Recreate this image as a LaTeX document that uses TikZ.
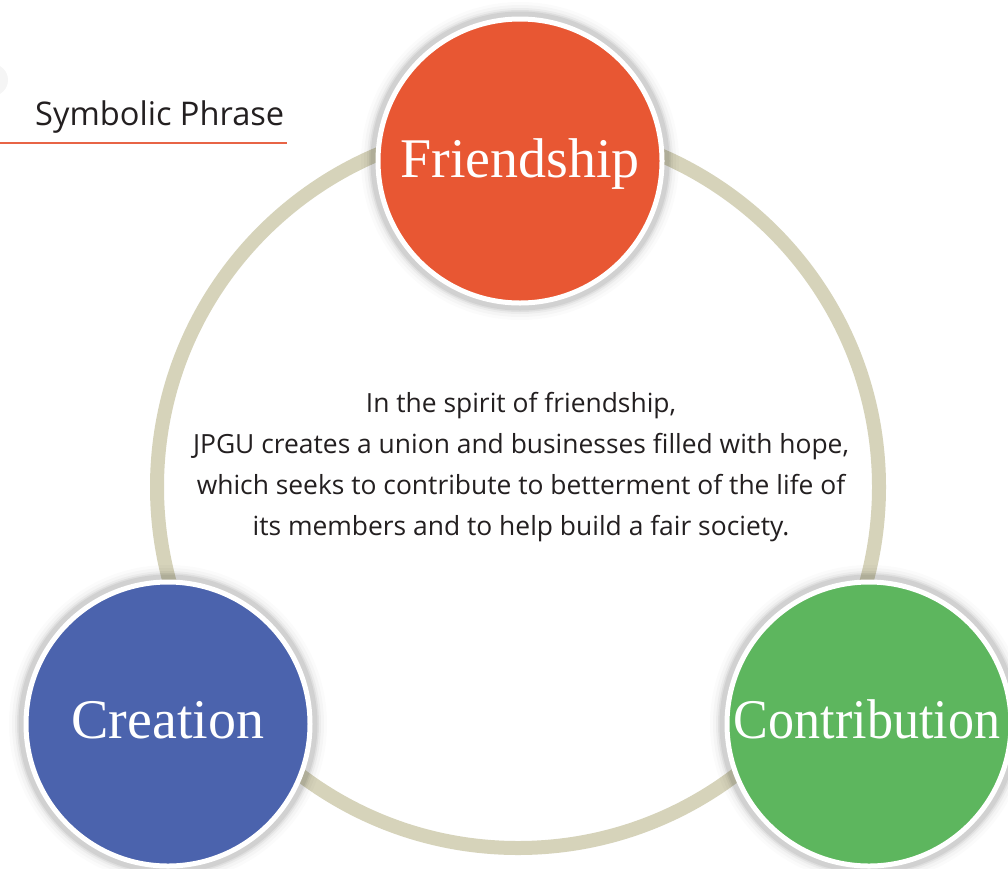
\documentclass[tikz,border=0pt]{standalone}
\usepackage{fontspec}
\setmainfont{Liberation Serif}
\newfontfamily\bodyfont{Open Sans}
\usetikzlibrary{calc}
\definecolor{ringcol}{RGB}{214,211,186}
\definecolor{friendcol}{RGB}{232,87,51}
\definecolor{creatcol}{RGB}{75,99,173}
\definecolor{contribcol}{RGB}{93,182,94}
\definecolor{txtcol}{RGB}{35,31,32}
\definecolor{linecol}{RGB}{232,100,70}
\tikzset{
  bigdisk/.style={circle, minimum size=284pt, inner sep=0pt, text=white,
    font=\fontsize{56}{56}\selectfont, draw=white, line width=5pt},
  disklabel/.style={text=white, font=\fontsize{56}{56}\selectfont, anchor=base},
}
\newcommand{\softshadow}[2]{%
  \foreach \r/\o in {159/0.015,156/0.025,153/0.035,151/0.05,149.5/0.06}{
    \fill[black, opacity=\o] (#1,#2) circle (\r pt);
  }%
}
\begin{document}
\begin{tikzpicture}[x=1pt,y=-1pt]
\useasboundingbox (0,0) rectangle (1008,868);
\fill[white] (0,0) rectangle (1008,868);
% faint blob top-left
\fill[black, opacity=0.04] (-8,80) circle (16pt);
% big ring
\coordinate (rc) at (518,487);
\draw[ringcol, line width=14pt] (rc) circle (361pt);
% shadows
\begin{scope}
\clip (0,0) rectangle (1008,868);
\softshadow{520}{161}
\softshadow{168}{724}
\softshadow{869}{724}
\end{scope}
% circles
\node[bigdisk, fill=friendcol] (friend) at (520,161) {};
\node[bigdisk, fill=creatcol] (creat) at (168,724) {};
\node[bigdisk, fill=contribcol] (contrib) at (869,724) {};
\node[disklabel] (friendlbl) at (520,177) {Friendship};
\node[disklabel] (creatlbl) at (168,738) {Creation};
\node[disklabel, xscale=0.93] (contriblbl) at (867,738) {Contribution};
% title
\node[anchor=base west, inner sep=0pt, text=txtcol, font=\bodyfont\fontsize{32.6}{32.6}\selectfont] (title) at (35,125) {Symbolic Phrase};
\coordinate (ls) at (0,143);
\coordinate (le) at (287,143);
\draw[linecol, line width=1.5pt] (ls) -- (le);
% center text
\node[align=center, inner sep=0pt, text=txtcol, font=\bodyfont\fontsize{26.4}{41}\selectfont] (body) at (521,467)
{In the spirit of friendship,\\
JPGU creates a union and businesses filled with hope,\\
which seeks to contribute to betterment of the life of\\
its members and to help build a fair society.};
\end{tikzpicture}
\end{document}
